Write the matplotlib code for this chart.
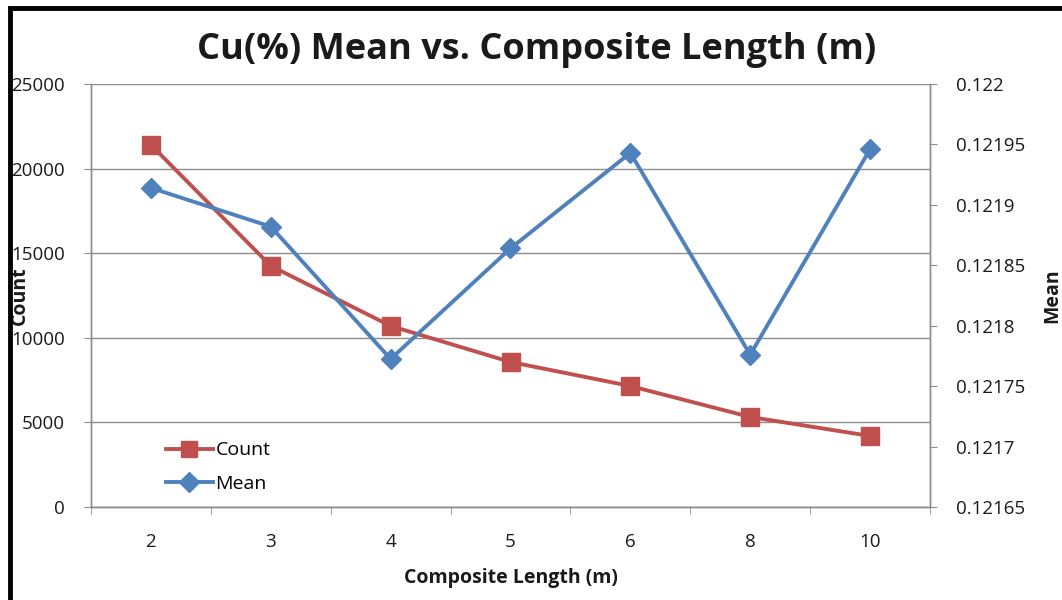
import matplotlib
matplotlib.use('Agg')
import matplotlib.pyplot as plt
from matplotlib.lines import Line2D
from matplotlib.patches import Rectangle

plt.rcParams['font.family'] = ['Open Sans', 'DejaVu Sans']

# 数据
lengths = ['2', '3', '4', '5', '6', '8', '10']
count = [21400, 14250, 10700, 8570, 7150, 5320, 4200]
mean = [0.121914, 0.121882, 0.1217725, 0.121864, 0.121943, 0.121776, 0.121946]
count_ticks = [0, 5000, 10000, 15000, 20000, 25000]
mean_ticks = [0.12165, 0.1217, 0.12175, 0.1218, 0.12185, 0.1219, 0.12195, 0.122]

red = '#C0504D'
blue = '#4F81BD'
grid_c = '#8C8C8C'
txt = '#1a1a1a'

fig = plt.figure(figsize=(10.62, 6), dpi=100)
ax1 = fig.add_axes([91 / 1062, 1 - 507 / 600, (930 - 91) / 1062, (507 - 84) / 600])
ax2 = ax1.twinx()

x = list(range(len(lengths)))
ax1.plot(x, count, color=red, lw=2.8, marker='s', ms=13, label='Count', zorder=3)
ax2.plot(x, mean, color=blue, lw=2.8, marker='D', ms=10.5, label='Mean', zorder=3)

ax1.set_xlim(-0.5, len(lengths) - 0.5)
ax1.set_ylim(0, 25000)
ax2.set_ylim(0.12165, 0.122)

ax1.set_yticks(count_ticks)
ax1.set_yticklabels([str(v) for v in count_ticks])
ax2.set_yticks(mean_ticks)
ax2.set_yticklabels([f'{v:g}' for v in mean_ticks])

ax1.set_xticks(x)
ax1.set_xticklabels(lengths)
ax1.set_xticks([i - 0.5 for i in range(len(lengths) + 1)], minor=True)
ax1.tick_params(axis='x', which='major', length=0, pad=19, labelsize=13.5, labelcolor=txt)
ax1.tick_params(axis='x', which='minor', length=5, color=grid_c, direction='out')
ax1.tick_params(axis='y', length=5, color=grid_c, direction='out', labelsize=13.5,
                labelcolor=txt, pad=14)
ax2.tick_params(axis='y', length=5, color=grid_c, direction='out', labelsize=13.5,
                labelcolor=txt, pad=14)

ax1.yaxis.grid(True, color=grid_c, lw=1)
ax1.set_axisbelow(True)

for ax in (ax1, ax2):
    ax.spines['top'].set_visible(False)
    for s in ('left', 'right', 'bottom'):
        ax.spines[s].set_color(grid_c)
        ax.spines[s].set_linewidth(1)

ax1.set_xlabel('Composite Length (m)', fontsize=14, fontweight='bold', color=txt, labelpad=12)
ax1.set_ylabel('Count', fontsize=14, fontweight='bold', color=txt, labelpad=-14)
ax2.set_ylabel('Mean', fontsize=14, fontweight='bold', color=txt, labelpad=12)

fig.text(537 / 1062, 1 - 50 / 600, 'Cu(%) Mean vs. Composite Length (m)',
         ha='center', va='center', fontsize=26, fontweight='bold', color=txt)

handles = [
    Line2D([], [], color=red, lw=2.8, marker='s', ms=12),
    Line2D([], [], color=blue, lw=2.8, marker='D', ms=10),
]
ax2.legend(handles, ['Count', 'Mean'], loc='lower left', bbox_to_anchor=(0.08, 0.015),
           frameon=False, fontsize=14, handlelength=2.4, handletextpad=0.15,
           labelspacing=0.8, borderaxespad=0)

# 外框
fig.patches.append(Rectangle((10 / 1062, -0.1), 1.2, 1 - 8 / 600 + 0.1,
                             transform=fig.transFigure, fill=False,
                             edgecolor='black', lw=3.5))

fig.savefig('out.png', dpi=100)
